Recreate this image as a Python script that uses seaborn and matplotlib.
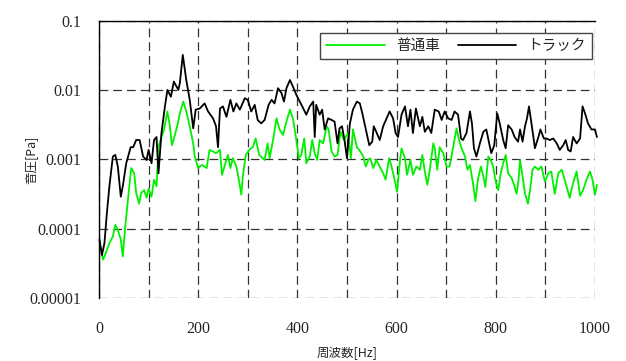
import matplotlib
matplotlib.use("Agg")
import matplotlib.pyplot as plt
import pandas as pd
import seaborn as sns

# 普通車 (green)
freq_car = [1, 8, 14, 21, 28, 33, 38, 44, 48, 53, 59, 65, 71, 75, 81, 85, 91, 96, 100, 106,
            111, 116, 120, 126, 131, 138, 143, 147, 152, 159,
            163, 170, 176, 183, 190, 193, 200, 207, 213, 217, 223, 230, 236, 244, 248, 253,
            260, 265, 270, 277, 282, 287, 290, 296, 303, 310, 316, 323, 330,
            334, 340, 344, 351, 358, 364, 371, 378, 385, 391, 398, 403, 408, 414, 418, 425,
            430, 435, 440, 445, 452, 459, 463, 469, 475, 481, 487, 494, 502, 508, 512,
            520, 527, 533, 538, 543, 547, 553, 559, 566, 573, 578, 585, 590, 596, 601, 607,
            610, 617, 621, 628, 633, 640, 647, 652, 657, 662, 667, 674,
            677, 682, 687, 694, 701, 707, 714, 721, 726, 731, 738, 743, 748, 754, 759, 764,
            770, 775, 779, 785, 790, 795, 799, 805, 810, 815, 820, 825, 832, 837, 842, 846,
            849, 854, 859, 865, 870, 874, 879, 886, 892, 899, 906, 912, 919, 926, 933, 939,
            949, 956, 963, 970, 976, 983, 990, 995, 1000, 1004]
pa_car = [6.6e-5, 3.6e-5, 4.5e-5, 6.2e-5, 7.8e-5, 1.14e-4, 9.7e-5, 7.0e-5, 4.0e-5, 1.08e-4,
          2.9e-4, 7.5e-4, 6.3e-4, 3.3e-4, 2.3e-4, 3.3e-4, 3.6e-4, 2.8e-4, 3.8e-4, 2.9e-4,
          5.1e-4, 4.1e-4, 1.5e-3, 2.1e-3, 2.65e-3, 4.9e-3, 3.0e-3, 1.6e-3, 2.1e-3, 3.3e-3,
          4.6e-3, 6.8e-3, 4.9e-3, 3.0e-3, 1.7e-3, 1.1e-3, 7.5e-4, 8.3e-4, 7.9e-4, 7.5e-4,
          1.37e-3, 1.3e-3, 1.23e-3, 1.37e-3, 6.0e-4, 7.9e-4, 1.16e-3, 7.5e-4, 1.04e-3, 7.9e-4,
          5.1e-4, 3.1e-4, 5.7e-4, 1.16e-3, 1.37e-3, 1.5e-3, 2.0e-3, 1.16e-3, 1.04e-3,
          9.8e-4, 1.7e-3, 1.04e-3, 1.9e-3, 3.9e-3, 2.7e-3, 2.25e-3, 3.5e-3, 5.2e-3, 3.9e-3,
          1.9e-3, 1.04e-3, 1.16e-3, 2.0e-3, 8.8e-4, 1.1e-3, 1.9e-3, 1.23e-3, 9.8e-4, 1.9e-3,
          1.7e-3, 3.0e-3, 2.7e-3, 1.3e-3, 1.1e-3, 1.16e-3, 2.5e-3, 1.9e-3, 2.4e-3, 1.04e-3,
          2.7e-3,
          1.5e-3, 1.3e-3, 1.1e-3, 7.9e-4, 9.8e-4, 1.04e-3, 7.5e-4, 9.8e-4, 7.9e-4, 6.3e-4,
          5.1e-4, 1.04e-3, 7.9e-4, 5.1e-4, 3.4e-4, 9.8e-4, 1.44e-3, 1.04e-3, 6.0e-4, 9.8e-4,
          6.0e-4, 7.9e-4, 7.1e-4, 1.16e-3, 6.7e-4, 4.3e-4, 7.1e-4, 1.7e-3,
          1.45e-3, 7.1e-4, 1.5e-3, 1.23e-3, 7.9e-4, 7.9e-4, 1.5e-3, 2.8e-3, 1.9e-3, 1.45e-3,
          1.1e-3, 7.1e-4, 8.3e-4, 4.6e-4, 2.5e-4, 5.1e-4, 7.9e-4, 5.7e-4, 4.0e-4, 1.1e-3,
          9.8e-4, 7.9e-4, 5.1e-4, 3.6e-4, 6.3e-4, 8.8e-4, 1.16e-3, 6.3e-4, 5.4e-4, 4.3e-4,
          3.2e-4, 5.1e-4,
          9.8e-4, 5.7e-4, 3.2e-4, 2.3e-4, 4.0e-4, 7.1e-4, 7.9e-4, 7.1e-4, 7.9e-4, 4.8e-4,
          6.3e-4, 6.7e-4, 3.2e-4, 6.3e-4, 7.1e-4, 5.1e-4, 2.8e-4, 4.6e-4, 6.7e-4, 3.0e-4,
          3.6e-4, 5.1e-4, 6.7e-4, 5.1e-4, 3.1e-4, 4.3e-4]

# トラック (black)
freq_truck = [1, 6, 11, 16, 21, 28, 33, 38, 44, 48, 55, 64, 69, 75, 82, 89, 96, 100, 106, 111,
              116, 120, 126, 133, 138, 145, 151, 160,
              163, 169, 176, 183, 190, 195, 203, 213, 220, 230, 236, 240, 244, 250, 257, 265,
              271, 277, 284, 294, 300, 307, 314, 320, 327,
              334, 342, 348, 354, 361, 368, 373, 378, 385, 391, 398, 405, 412, 418, 425, 432,
              435, 438, 445, 450, 455, 462, 469, 475, 481, 485, 490, 495, 500,
              506, 512, 520, 526, 531, 538, 545, 551, 554, 559, 566, 573, 580, 586, 593, 598,
              603, 610, 617, 623, 628, 633, 639, 647, 652, 657, 664, 670,
              677, 685, 691, 697, 704, 711, 717, 724, 730, 734, 741, 748, 752, 756, 761, 768,
              775, 781, 786, 791, 797, 803, 808, 815, 820, 825, 832, 838, 845,
              849, 854, 859, 863, 867, 872, 879, 886, 890, 897, 902, 909, 916, 923, 929, 936,
              941, 946, 951, 956, 963, 970, 975, 980, 986, 993, 1000, 1004]
pa_truck = [7.0e-5, 4.2e-5, 6.2e-5, 1.7e-4, 4.1e-4, 1.1e-3, 1.16e-3, 7.9e-4, 2.9e-4, 4.1e-4,
            8.8e-4, 1.5e-3, 1.5e-3, 1.9e-3, 1.9e-3, 1.1e-3, 9.8e-4, 1.37e-3, 8.8e-4, 1.9e-3,
            2.1e-3, 6.3e-4, 2.4e-3, 5.8e-3, 1.0e-2, 8.0e-3, 1.32e-2, 1.0e-2,
            0.0125, 0.032, 0.0139, 0.0072, 0.0028, 0.0052, 0.0054, 0.0064, 0.0049, 0.0039,
            0.0030, 0.0015, 0.0054, 0.0058, 0.0041, 0.0072, 0.0049, 0.0064, 0.0052, 0.0076,
            0.0072, 0.0049, 0.0061, 0.0037, 0.0033,
            0.0037, 0.0061, 0.0072, 0.0064, 0.0106, 0.0090, 0.0068, 0.0106, 0.0139, 0.0112,
            0.0085, 0.0068, 0.0054, 0.0044, 0.0058, 0.0068, 0.0021, 0.0061, 0.0044, 0.0052,
            0.0027, 0.0039, 0.0037, 0.0035, 0.0017, 0.0028, 0.0030, 0.0019, 0.00104,
            0.0033, 0.0052, 0.0068, 0.0064, 0.0046, 0.0027, 0.0016, 0.0018, 0.0030, 0.0025,
            0.0019, 0.0030, 0.0039, 0.0049, 0.0039, 0.0024, 0.0021, 0.0044, 0.0058, 0.0030,
            0.0052, 0.0024, 0.0054, 0.0030, 0.0041, 0.0025, 0.0030, 0.0024,
            0.0052, 0.0049, 0.0037, 0.0049, 0.0039, 0.0037, 0.0049, 0.0044, 0.0020, 0.0019,
            0.0024, 0.0049, 0.0033, 0.00145, 0.0011, 0.0017, 0.0025, 0.0027, 0.0018, 0.00123,
            0.0016, 0.0046, 0.0033, 0.0019, 0.00145, 0.0031, 0.0027, 0.0021, 0.0018,
            0.0027, 0.0018, 0.0030, 0.0039, 0.0058, 0.0033, 0.00145, 0.0021, 0.0027, 0.0020,
            0.0020, 0.0019, 0.0020, 0.0017, 0.00137, 0.0016, 0.0019, 0.00137, 0.0013, 0.0021,
            0.0017, 0.0020, 0.0058, 0.0046, 0.0033, 0.0027, 0.0027, 0.0021]

x_ticks = [0, 100, 200, 300, 400, 500, 600, 700, 800, 900, 1000]
x_tick_labels = ["0", "", "200", "", "400", "", "600", "", "800", "", "1000"]
y_ticks = [1e-5, 1e-4, 1e-3, 1e-2, 1e-1]
y_tick_labels = ["0.00001", "0.0001", "0.001", "0.01", "0.1"]


def main():
    sns.set_style("white")
    plt.rcParams["font.family"] = ["Noto Sans CJK JP", "DejaVu Sans"]

    df_car = pd.DataFrame({"周波数": freq_car, "音圧": pa_car})
    df_truck = pd.DataFrame({"周波数": freq_truck, "音圧": pa_truck})

    fig = plt.figure(figsize=(6.26, 3.61), dpi=100)
    ax = fig.add_axes([0.1581, 0.1737, 0.7923, 0.7695])

    sns.lineplot(data=df_car, x="周波数", y="音圧", ax=ax, color="#00f000", lw=1.3,
                 estimator=None, sort=False, label="普通車", clip_on=False)
    sns.lineplot(data=df_truck, x="周波数", y="音圧", ax=ax, color="black", lw=1.3,
                 estimator=None, sort=False, label="トラック", clip_on=False)

    ax.set_yscale("log")
    ax.set_xlim(0, 1000)
    ax.set_ylim(1e-5, 1e-1)
    ax.set_xticks(x_ticks)
    ax.set_xticklabels(x_tick_labels, family="Liberation Serif", fontsize=11.5)
    ax.set_yticks(y_ticks)
    ax.set_yticklabels(y_tick_labels, family="Liberation Serif", fontsize=11.5)
    ax.minorticks_off()
    ax.tick_params(axis="both", length=0)
    ax.tick_params(axis="x", pad=16)
    ax.tick_params(axis="y", pad=13)

    ax.grid(True, ls=(0, (7, 4)), color="#333333", lw=0.9)
    for side in ["right", "bottom"]:
        ax.spines[side].set_visible(False)
    for side in ["left", "top"]:
        ax.spines[side].set_color("black")
        ax.spines[side].set_linewidth(1.0)

    ax.set_xlabel("周波数[Hz]", fontsize=9)
    ax.set_ylabel("音圧[Pa]", fontsize=9)
    ax.xaxis.set_label_coords(0.5, -0.172)
    ax.yaxis.set_label_coords(-0.125, 0.5)

    leg = ax.legend(loc="upper right", bbox_to_anchor=(0.994, 0.955), borderaxespad=0,
                    ncol=2, handlelength=4.0, columnspacing=1.2, fontsize=10.5,
                    fancybox=False, frameon=True, framealpha=1)
    leg.get_frame().set_edgecolor("#444444")
    leg.get_frame().set_linewidth(1.0)

    fig.savefig("out.png", dpi=100)


if __name__ == "__main__":
    main()
